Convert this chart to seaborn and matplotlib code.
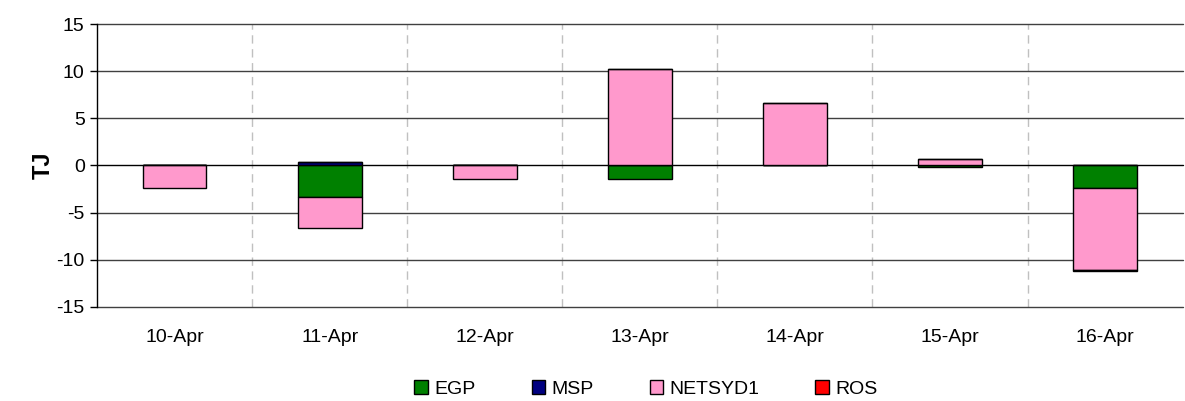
import numpy as np
import pandas as pd
import seaborn as sns
import matplotlib.pyplot as plt
from matplotlib.patches import Patch

# data (TJ)
days = ['10-Apr', '11-Apr', '12-Apr', '13-Apr', '14-Apr', '15-Apr', '16-Apr']
egp = [0.0, -3.3, 0.0, -1.4, 0.0, -0.15, -2.4]
msp = [0.0, 0.35, 0.0, 0.0, 0.0, 0.0, 0.0]
netsyd1 = [-2.4, -3.3, -1.4, 10.2, 6.6, 0.7, -8.7]
ros = [0.0, 0.0, 0.0, 0.0, 0.0, 0.0, -0.15]

series = {'EGP': egp, 'MSP': msp, 'NETSYD1': netsyd1, 'ROS': ros}
colors = {'EGP': '#008000', 'MSP': '#000080', 'NETSYD1': '#FF99CC', 'ROS': '#FF0000'}

sns.set_theme(style="white")
plt.rcParams['font.family'] = ['Liberation Sans', 'DejaVu Sans']
plt.rcParams['axes.unicode_minus'] = False
plt.rcParams['text.color'] = 'black'
plt.rcParams['xtick.color'] = 'black'
plt.rcParams['ytick.color'] = 'black'
plt.rcParams['axes.labelcolor'] = 'black'

fig, ax = plt.subplots(figsize=(11.85, 4.01), dpi=100)
fig.subplots_adjust(left=0.082, right=0.998, top=0.94, bottom=0.235)

# Excel-style stacking: positives go up from 0, negatives go down from 0
pos = np.zeros(len(days))
neg = np.zeros(len(days))
for name, vals in series.items():
    vals = np.array(vals)
    bottom = np.where(vals >= 0, pos, neg)
    sns.barplot(x=days, y=vals, bottom=bottom, color=colors[name], saturation=1,
                width=0.41, edgecolor='black', linewidth=1.0, errorbar=None, ax=ax, zorder=3)
    pos = pos + np.where(vals >= 0, vals, 0)
    neg = neg + np.where(vals < 0, vals, 0)

ax.set_ylim(-15, 15)
ax.set_yticks(range(-15, 16, 5))
ax.set_xlim(-0.5, len(days) - 0.5)

# grid: solid horizontal, dashed vertical at category boundaries
for y in range(-15, 16, 5):
    ax.axhline(y, color='#404040' if y != 0 else 'black', linewidth=1.0, zorder=1, clip_on=False)
for b in np.arange(0.5, len(days) - 0.5, 1):
    ax.axvline(b, color='#c0c0c0', linestyle=(0, (6, 4)), linewidth=1.0, zorder=0)

for s in ['top', 'right', 'bottom']:
    ax.spines[s].set_visible(False)
ax.spines['left'].set_color('black')
ax.spines['left'].set_linewidth(1.0)
ax.tick_params(axis='y', left=True, length=5, width=1, color='black', labelsize=14, pad=4)
ax.tick_params(axis='x', bottom=False, labelsize=14, pad=10)

ax.set_ylabel('TJ', fontsize=17, fontweight='bold', labelpad=1)
ax.set_xlabel('')

handles = [Patch(facecolor=colors[n], edgecolor='black', label=n) for n in series]
fig.legend(handles=handles, loc='lower center', ncol=4, frameon=False,
           bbox_to_anchor=(0.545, -0.035), fontsize=14, handlelength=0.7,
           handleheight=0.7, handletextpad=0.3, columnspacing=2.9)

fig.savefig('out.png', dpi=100)
